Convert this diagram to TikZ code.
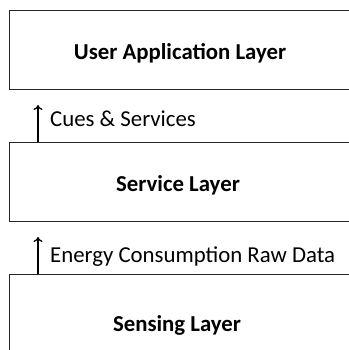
\documentclass[tikz,border=0pt]{standalone}
\usepackage{fontspec}
\setmainfont{Carlito}
\usetikzlibrary{arrows.meta}
\begin{document}
\begin{tikzpicture}[x=1pt,y=1pt,
  layerbox/.style={draw=black!85, line width=1.3pt, minimum width=342pt, minimum height=79pt, inner sep=0pt, anchor=north west},
  layertext/.style={font=\fontsize{22.8}{26}\selectfont\bfseries, anchor=base, inner sep=0pt},
  flowtext/.style={font=\fontsize{22.8}{26}\selectfont, anchor=base west, inner sep=0pt},
  flowarrow/.style={line width=1.8pt, -{To[length=5pt,width=9pt,line width=1.3pt]}}]
\useasboundingbox (0,0) rectangle (348,350);
\node[layerbox] (app) at (9,340) {};
\node[layerbox] (svc) at (9,208) {};
\node[layerbox, minimum height=82pt] (sen) at (9,76) {};
\node[layertext] (apptext) at (180,290) {User Application Layer};
\node[layertext] (svctext) at (178,158) {Service Layer};
\node[layertext] (sentext) at (177,18) {Sensing Layer};
\coordinate (a1) at (38,245);
\coordinate (a2) at (38,113);
\draw[flowarrow] (svc.north west -| a1) -- (a1);
\draw[flowarrow] (sen.north west -| a2) -- (a2);
\node[flowtext] (cues) at (50,223) {Cues \& Services};
\node[flowtext] (raw) at (50,87) {Energy Consumption Raw Data};
\end{tikzpicture}
\end{document}
